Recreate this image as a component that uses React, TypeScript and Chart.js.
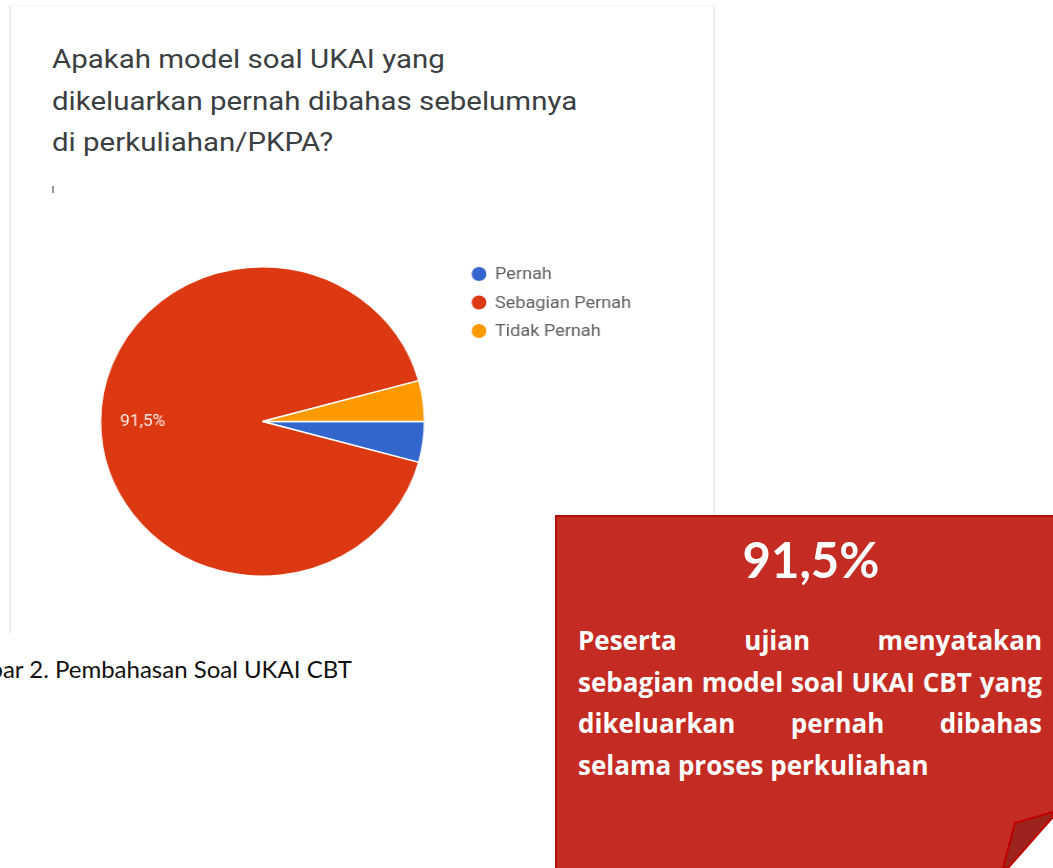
import { useEffect, useRef } from 'react';
import { Chart, registerables } from 'chart.js';

Chart.register(...registerables);

// ---- data ----
const categories = ['Pernah', 'Sebagian Pernah', 'Tidak Pernah'];
const responses = [2, 43, 2];
const sliceColors = ['#3366cc', '#dc3912', '#ff9900'];
const titleLines = [
  'Apakah model soal UKAI yang',
  'dikeluarkan pernah dibahas sebelumnya',
  'di perkuliahan/PKPA?',
];
const captionText = 'Gambar 2. Pembahasan Soal UKAI CBT';
const calloutValue = '91,5%';
const calloutLines = [
  'Peserta ujian menyatakan',
  'sebagian model soal UKAI CBT yang',
  'dikeluarkan pernah dibahas',
  'selama proses perkuliahan',
];

const CANVAS_LEFT = 0;
const CANVAS_TOP = 230;
const CANVAS_W = 720;
const CANVAS_H = 380;
const PIE_CX = 262.5;
const STRETCH_X = 1.047;

const pctLabelPlugin = {
  id: 'pctLabels',
  afterDatasetsDraw(chart: any) {
    const ctx = chart.ctx;
    const meta = chart.getDatasetMeta(0);
    const data = chart.data.datasets[0].data as number[];
    const total = data.reduce((a: number, b: number) => a + b, 0);
    meta.data.forEach((arc: any, i: number) => {
      const pct = (data[i] / total) * 100;
      if (pct < 10) return;
      const { x, y, startAngle, endAngle, outerRadius } = arc.getProps(
        ['x', 'y', 'startAngle', 'endAngle', 'outerRadius'],
        true
      );
      const mid = (startAngle + endAngle) / 2;
      const r = outerRadius * 0.74;
      ctx.save();
      ctx.fillStyle = 'rgba(255,255,255,0.9)';
      ctx.font = '16.5px Roboto';
      ctx.textAlign = 'center';
      ctx.textBaseline = 'middle';
      ctx.fillText(pct.toFixed(1).replace('.', ',') + '%', x + Math.cos(mid) * r, y + Math.sin(mid) * r);
      ctx.restore();
    });
  },
};

const sideLegendPlugin = {
  id: 'sideLegend',
  afterDraw(chart: any, _args: any, opts: any) {
    const ctx = chart.ctx;
    const labels = chart.data.labels as string[];
    const colors = chart.data.datasets[0].backgroundColor as string[];
    ctx.save();
    labels.forEach((lab, i) => {
      const cy = opts.y + i * opts.gap;
      ctx.beginPath();
      ctx.arc(opts.x, cy, opts.r, 0, Math.PI * 2);
      ctx.fillStyle = colors[i];
      ctx.fill();
      ctx.fillStyle = opts.color;
      ctx.font = opts.font;
      ctx.textBaseline = 'middle';
      ctx.textAlign = 'left';
      ctx.fillText(lab, opts.x + opts.textGap, cy + 1);
    });
    ctx.restore();
  },
};

function Txt({ text, x, baseline, size, family, weight = 400, color, ratio, right, scaleX }: any) {
  const top = baseline - ratio * size;
  const style: any = {
    position: 'absolute',
    top,
    fontFamily: family,
    fontSize: size,
    fontWeight: weight,
    lineHeight: `${size}px`,
    color,
    whiteSpace: 'nowrap',
  };
  if (right !== undefined) style.right = right;
  else style.left = x;
  if (scaleX) {
    style.transform = `scaleX(${scaleX})`;
    style.transformOrigin = 'left center';
  }
  return <div style={style}>{text}</div>;
}

export default function App() {
  const canvasRef = useRef<HTMLCanvasElement>(null);

  useEffect(() => {
    document.body.style.margin = '0';
    document.body.style.overflow = 'hidden';
    const legendX = PIE_CX + (479 - PIE_CX) / STRETCH_X - CANVAS_LEFT;
    const textX = PIE_CX + (495 - PIE_CX) / STRETCH_X - CANVAS_LEFT;
    const chart = new Chart(canvasRef.current as HTMLCanvasElement, {
      type: 'pie',
      data: {
        labels: categories,
        datasets: [
          {
            data: responses,
            backgroundColor: sliceColors,
            borderColor: '#ffffff',
            borderWidth: 1.5,
          },
        ],
      },
      options: {
        responsive: false,
        animation: false,
        rotation: 90,
        layout: { padding: { left: 107, right: 302, top: 36, bottom: 33 } },
        plugins: {
          legend: { display: false },
          tooltip: { enabled: false },
          sideLegend: {
            x: legendX,
            y: 44,
            gap: 28.5,
            r: 7,
            textGap: textX - legendX,
            font: '17.3px Roboto',
            color: '#5f5f5f',
          },
        } as any,
      },
      plugins: [pctLabelPlugin, sideLegendPlugin],
    });
    return () => chart.destroy();
  }, []);

  const titleBaselines = [68.5, 110, 151.5];
  const calloutBaselines = [650, 692, 733.5, 775];

  return (
    <div style={{ position: 'relative', width: 1053, height: 868, overflow: 'hidden', background: '#fff' }}>
      {/* card */}
      <div
        style={{
          position: 'absolute',
          left: 9,
          top: 5,
          width: 706,
          height: 628,
          borderLeft: '2px solid #ececec',
          borderRight: '2px solid #ececec',
          borderTop: '1px solid #f6f6f6',
          boxSizing: 'border-box',
        }}
      />
      {titleLines.map((t, i) => (
        <Txt
          key={i}
          text={t}
          x={52}
          baseline={titleBaselines[i]}
          size={25.5}
          family="Roboto"
          color="#3c3f42"
          ratio={0.8415}
          scaleX={1.155}
        />
      ))}
      <div style={{ position: 'absolute', left: 52, top: 186, width: 2, height: 7, background: '#9a9a9a' }} />
      <canvas
        ref={canvasRef}
        width={CANVAS_W}
        height={CANVAS_H}
        style={{
          position: 'absolute',
          left: CANVAS_LEFT,
          top: CANVAS_TOP,
          width: CANVAS_W,
          height: CANVAS_H,
          transform: `scaleX(${STRETCH_X})`,
          transformOrigin: `${PIE_CX - CANVAS_LEFT}px 50%`,
        }}
      />
      {/* caption (clipped at the left like the source) */}
      <Txt text={captionText} right={1053 - 352} baseline={678.5} size={24} family="Lato" color="#111" ratio={0.887} />

      {/* callout box */}
      <div
        style={{
          position: 'absolute',
          left: 555,
          top: 515,
          width: 520,
          height: 400,
          background: '#c42b22',
          border: '2px solid #b80d0d',
          boxSizing: 'border-box',
        }}
      />
      <div
        style={{
          position: 'absolute',
          left: 580,
          width: 462,
          top: 578 - 0.887 * 49,
          fontFamily: 'Lato',
          fontWeight: 700,
          fontSize: 49,
          lineHeight: '49px',
          color: '#fff',
          textAlign: 'center',
        }}
      >
        {calloutValue}
      </div>
      {calloutLines.map((t, i) => (
        <div
          key={i}
          style={{
            position: 'absolute',
            left: 578,
            width: 464,
            top: calloutBaselines[i] - 0.888 * 26,
            fontFamily: 'Open Sans',
            fontWeight: 700,
            fontSize: 26,
            lineHeight: '26px',
            color: '#fff',
            whiteSpace: 'nowrap',
            textAlign: i < calloutLines.length - 1 ? 'justify' : 'left',
            textAlignLast: i < calloutLines.length - 1 ? 'justify' : 'left',
          } as any}
        >
          {t}
        </div>
      ))}
      <svg style={{ position: 'absolute', left: 0, top: 0 }} width={1053} height={868}>
        <polygon points="1053,816 1053,868 1008,868" fill="#ffffff" />
        <polygon
          points="1015,823 1053,812 1053,817 1008,868 1003,868"
          fill="#9c241c"
          stroke="#c00000"
          strokeWidth={2}
          strokeLinejoin="round"
        />
      </svg>
    </div>
  );
}
